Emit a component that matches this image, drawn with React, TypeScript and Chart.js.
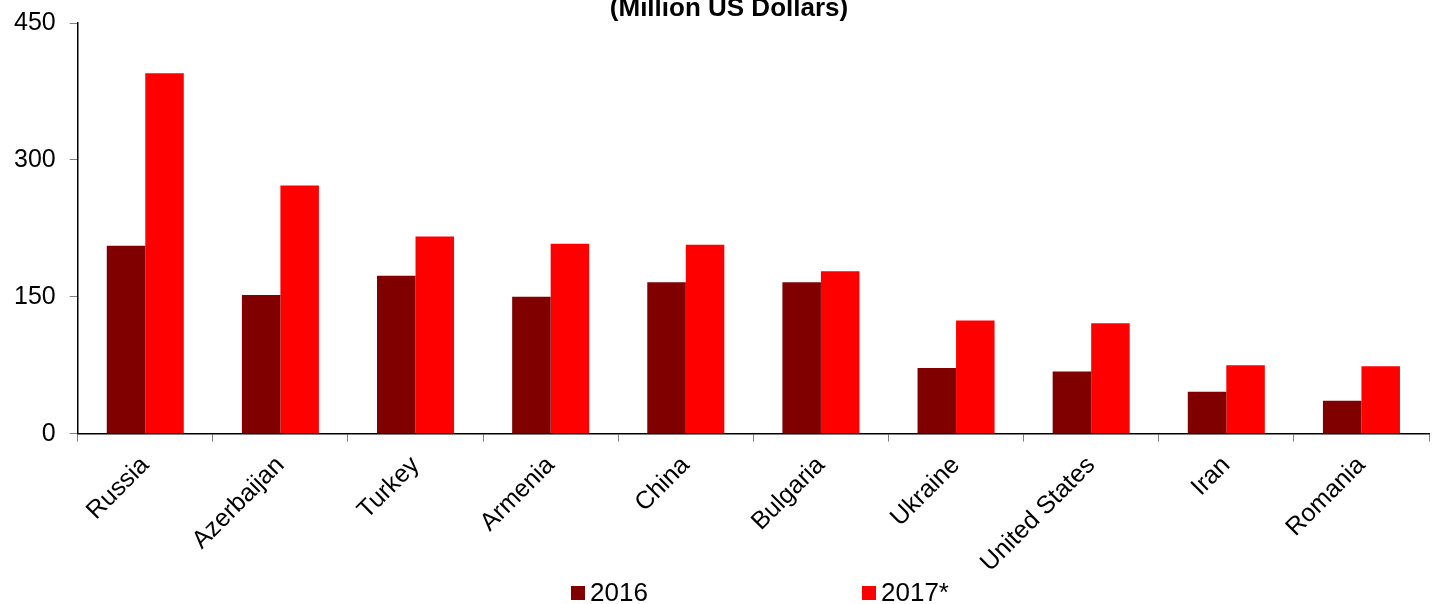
import React, { useEffect, useRef } from "react";
import { Chart, registerables } from "chart.js";

Chart.register(...registerables);

const categories = ["Russia", "Azerbaijan", "Turkey", "Armenia", "China", "Bulgaria", "Ukraine", "United States", "Iran", "Romania"];
const series2016 = [206, 152, 173, 150, 166, 166, 72, 68, 46, 36];
const series2017 = [395, 272, 216, 208, 207, 178, 124, 121, 75, 74];
const seriesLabels = ["2016", "2017*"];
const seriesColors = ["#800000", "#FF0000"];
const yTicks = [0, 150, 300, 450];
const titleText = "(Million US Dollars)";

const FONT = "'Liberation Sans', Arial, sans-serif";

const overlayPlugin = {
  id: "overlay",
  afterDraw(chart: any) {
    const ctx = chart.ctx;
    ctx.save();
    // title
    ctx.font = `bold 26px ${FONT}`;
    ctx.fillStyle = "#000";
    ctx.textAlign = "center";
    ctx.textBaseline = "alphabetic";
    ctx.fillText(titleText, 729, 16);
    // legend
    ctx.font = `26px ${FONT}`;
    ctx.textAlign = "left";
    ctx.textBaseline = "middle";
    chart.data.datasets.forEach((ds: any, i: number) => {
      const x = 571 + i * 291;
      const y = 593;
      ctx.fillStyle = ds.backgroundColor;
      ctx.fillRect(x, y - 7, 14, 14);
      ctx.fillStyle = "#000";
      ctx.fillText(ds.label, x + 19, y + 1);
    });
    ctx.restore();
  },
};

export default function App() {
  const ref = useRef<HTMLCanvasElement>(null);
  useEffect(() => {
    document.body.style.margin = "0";
    const chart = new Chart(ref.current!, {
      type: "bar",
      data: {
        labels: categories,
        datasets: [
          { label: seriesLabels[0], data: series2016, backgroundColor: seriesColors[0] },
          { label: seriesLabels[1], data: series2017, backgroundColor: seriesColors[1] },
        ],
      },
      options: {
        animation: false,
        responsive: false,
        maintainAspectRatio: false,
        layout: { padding: { top: 23, bottom: 17, right: 6, left: 0 } },
        plugins: {
          legend: { display: false },
          title: { display: false },
          tooltip: { enabled: false },
        },
        datasets: { bar: { categoryPercentage: 0.57, barPercentage: 1.0 } },
        scales: {
          x: {
            offset: true,
            grid: { offset: true, drawOnChartArea: false, drawTicks: true, tickLength: 8, color: "#808080" },
            border: { color: "#000", width: 1.5 },
            ticks: {
              color: "#000",
              font: { family: FONT, size: 25 },
              maxRotation: 45,
              minRotation: 45,
              autoSkip: false,
              padding: 9,
            },
          },
          y: {
            min: 0,
            max: 450,
            afterBuildTicks: (axis: any) => {
              axis.ticks = yTicks.map((v) => ({ value: v }));
            },
            afterFit: (axis: any) => {
              axis.paddingTop = 0;
              axis.paddingBottom = 0;
            },
            grid: { drawOnChartArea: false, drawTicks: true, tickLength: 8, color: "#808080" },
            border: { color: "#000", width: 1.5 },
            ticks: {
              color: "#000",
              font: { family: FONT, size: 25 },
              padding: 14,
            },
          },
        },
      },
      plugins: [overlayPlugin],
    });
    return () => chart.destroy();
  }, []);
  return (
    <div style={{ width: 1435, height: 604 }}>
      <canvas ref={ref} width={1435} height={604} />
    </div>
  );
}
